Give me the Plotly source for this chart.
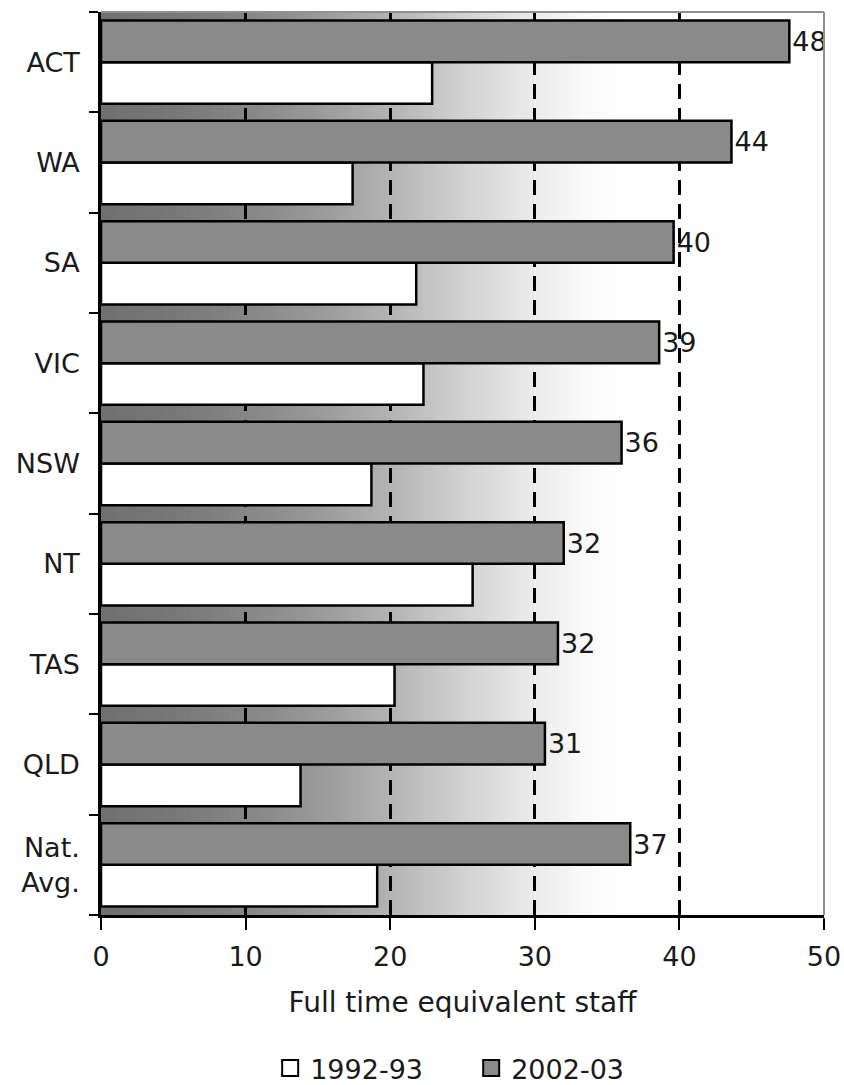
import plotly.graph_objects as go

# Jurisdictions, listed top to bottom as they appear on the chart
states = ["ACT", "WA", "SA", "VIC", "NSW", "NT", "TAS", "QLD", "Nat.<br>Avg."]
# Full time equivalent staff per jurisdiction
fte_1992_93 = [22.9, 17.4, 21.8, 22.3, 18.7, 25.7, 20.3, 13.8, 19.1]
fte_2002_03 = [47.6, 43.6, 39.6, 38.6, 36.0, 32.0, 31.6, 30.7, 36.6]
series_names = ["1992-93", "2002-03"]
x_ticks = [0, 10, 20, 30, 40, 50]

FONT = "DejaVu Sans"
TEXT = "#1a1a1a"
GREY_BAR = "#8a8a8a"

fig = go.Figure()

fig.add_trace(go.Bar(
    y=states, x=fte_1992_93, orientation="h", name=series_names[0],
    marker=dict(color="white", line=dict(color="black", width=2.5)),
    showlegend=False,
))
fig.add_trace(go.Bar(
    y=states, x=fte_2002_03, orientation="h", name=series_names[1],
    marker=dict(color=GREY_BAR, line=dict(color="black", width=2.5)),
    texttemplate="%{x:.0f}", textposition="outside",
    textfont=dict(family=FONT, size=27, color=TEXT),
    cliponaxis=False, constraintext="none",
    showlegend=False,
))

# Legend entries with larger square swatches
for name, fill in zip(series_names, ["white", GREY_BAR]):
    fig.add_trace(go.Scatter(
        x=[None], y=[None], mode="markers", name=name,
        marker=dict(symbol="square", size=16, color=fill,
                    line=dict(color="black", width=2)),
    ))

# Horizontal grey-to-white fade behind the bars
stops = [(0, 112), (5, 120), (10, 134), (15, 154), (20, 180),
         (25, 210), (30, 236), (33, 248), (36, 255)]
shapes = []
step = 0.25
x = 0.0
while x < 36:
    for (x0, g0), (x1, g1) in zip(stops[:-1], stops[1:]):
        if x0 <= x < x1:
            g = round(g0 + (g1 - g0) * (x - x0) / (x1 - x0))
            break
    shapes.append(dict(
        type="rect", xref="x", yref="paper", x0=x, x1=x + step + 0.05,
        y0=0, y1=1, fillcolor=f"rgb({g},{g},{g})", line=dict(width=0),
        layer="below",
    ))
    x += step

# Grey frame on the top and right of the plotting area
shapes.append(dict(type="line", xref="paper", yref="paper", x0=0, x1=1,
                   y0=1, y1=1, line=dict(color="#909090", width=2)))
shapes.append(dict(type="line", xref="paper", yref="paper", x0=1, x1=1,
                   y0=0, y1=1, line=dict(color="#909090", width=2)))

fig.update_layout(
    width=844, height=1085,
    margin=dict(l=101, r=20, t=12, b=170, autoexpand=False),
    paper_bgcolor="white", plot_bgcolor="white",
    barmode="group", bargap=0.17, bargroupgap=0,
    font=dict(family=FONT, size=27, color=TEXT),
    shapes=shapes,
    legend=dict(
        orientation="h", x=0.512, xanchor="center", y=-0.17, yanchor="middle",
        font=dict(family=FONT, size=27, color=TEXT),
        bgcolor="rgba(0,0,0,0)", itemsizing="trace",
        entrywidth=156, entrywidthmode="pixels",
    ),
    xaxis=dict(
        range=[0, 50], tickvals=x_ticks, ticks="outside", ticklen=12,
        tickwidth=2, tickcolor="black", showline=True, linecolor="black",
        linewidth=2.5, showgrid=True, gridcolor="black", gridwidth=3,
        griddash="15px,9px", zeroline=False, ticklabelstandoff=4,
        automargin=False,
        tickfont=dict(family=FONT, size=27, color=TEXT),
        title=dict(text="Full time equivalent staff", standoff=22,
                   font=dict(family=FONT, size=28, color=TEXT)),
    ),
    yaxis=dict(
        type="category", categoryorder="array",
        categoryarray=states[::-1], range=[-0.5, len(states) - 0.5],
        ticks="outside", ticklen=9, tickwidth=2, tickcolor="black",
        tickson="boundaries", showline=True, linecolor="black",
        linewidth=2.5, showgrid=False, zeroline=False, automargin=False,
        ticklabelstandoff=13,
        tickfont=dict(family=FONT, size=27, color=TEXT),
    ),
)

fig.write_html("out.html")
